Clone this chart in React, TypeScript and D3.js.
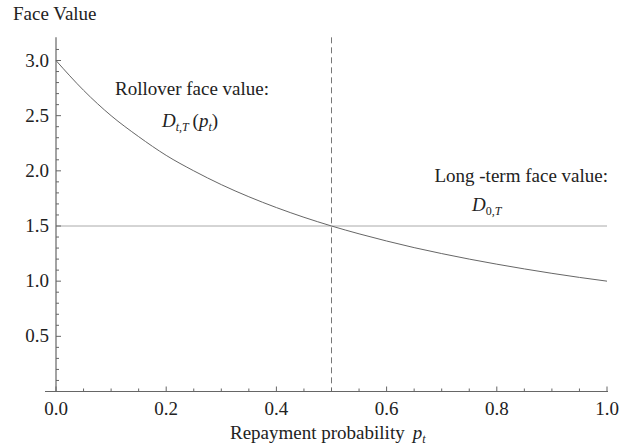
import React from "react";
import * as d3 from "d3";

// values
const probs = [0, 0.05, 0.1, 0.15, 0.2, 0.25, 0.3, 0.35, 0.4, 0.45, 0.5, 0.55, 0.6, 0.65, 0.7, 0.75, 0.8, 0.85, 0.9, 0.95, 1.0];
const rollover = [3.0, 2.73, 2.5, 2.31, 2.14, 2.0, 1.875, 1.765, 1.667, 1.579, 1.5, 1.429, 1.364, 1.304, 1.25, 1.2, 1.154, 1.111, 1.071, 1.034, 1.0];
const longTerm = 1.5;
const cutoff = 0.5;
const xTicks = [0, 0.2, 0.4, 0.6, 0.8, 1.0];
const yTicks = [0.5, 1.0, 1.5, 2.0, 2.5, 3.0];

const W = 619;
const H = 448;
const font = "Liberation Serif, DejaVu Serif, serif";

export default function App() {
  const x = d3.scaleLinear().domain([0, 1]).range([56, 607]);
  const y = d3.scaleLinear().domain([0, 3]).range([391.5, 60.5]);
  const yTop = y(3.21);

  const line = d3
    .line<number>()
    .x((_, i) => x(probs[i]))
    .y((d) => y(d))
    .curve(d3.curveMonotoneX);

  const xMinor = d3.range(0, 1.0001, 0.05);
  const yMinor = d3.range(0.1, 3.2, 0.1);
  const axisColor = "#666";

  return (
    <svg width={W} height={H} style={{ position: "fixed", left: 0, top: 0, display: "block" }}>
      <rect width={W} height={H} fill="#fff" />
      <g fontFamily={font} fill="#222" fontSize={19}>
        {/* reference lines */}
        <line x1={x(0)} x2={x(1)} y1={y(longTerm)} y2={y(longTerm)} stroke="#aaa" strokeWidth={1} />
        <line x1={x(cutoff)} x2={x(cutoff)} y1={yTop} y2={y(0)} stroke="#777" strokeWidth={1} strokeDasharray="6,4" />
        <path d={line(rollover) || ""} fill="none" stroke="#666" strokeWidth={1} />

        {/* axes */}
        <line x1={45} x2={x(1) + 1} y1={y(0)} y2={y(0)} stroke={axisColor} strokeWidth={1.2} />
        <line x1={x(0)} x2={x(0)} y1={y(0)} y2={yTop} stroke={axisColor} strokeWidth={1.2} />
        {xMinor.map((t, i) => {
          const major = i % 4 === 0;
          return (
            <line key={"xm" + i} x1={x(t)} x2={x(t)} y1={y(0)} y2={y(0) - (major ? 5 : 3)} stroke={axisColor} strokeWidth={1} />
          );
        })}
        {yMinor.map((t, i) => {
          const major = Math.abs(t * 2 - Math.round(t * 2)) < 1e-6;
          return (
            <line key={"ym" + i} x1={x(0)} x2={x(0) + (major ? 5 : 3)} y1={y(t)} y2={y(t)} stroke={axisColor} strokeWidth={1} />
          );
        })}
        {xTicks.map((t) => (
          <text key={"xt" + t} x={x(t)} y={y(0) + 23} textAnchor="middle">
            {t.toFixed(1)}
          </text>
        ))}
        {yTicks.map((t) => (
          <text key={"yt" + t} x={x(0) - 7} y={y(t) + 6} textAnchor="end">
            {t.toFixed(1)}
          </text>
        ))}

        {/* axis labels */}
        <text x={13} y={20}>Face Value</text>
        <text x={230} y={439}>
          Repayment probability
          <tspan fontStyle="italic" dx={8}>p</tspan>
          <tspan fontStyle="italic" fontSize={12} dy={4}>t</tspan>
        </text>

        {/* annotations */}
        <text x={115} y={95}>Rollover face value:</text>
        <text x={162} y={127}>
          <tspan fontStyle="italic">D</tspan>
          <tspan fontStyle="italic" fontSize={12} dy={4}>t,T</tspan>
          <tspan dy={-4}>{"\u2009"}(</tspan>
          <tspan fontStyle="italic">p</tspan>
          <tspan fontStyle="italic" fontSize={12} dy={4}>t</tspan>
          <tspan dy={-4}>)</tspan>
        </text>
        <text x={608} y={182} textAnchor="end">Long -term face value:</text>
        <text x={472} y={211}>
          <tspan fontStyle="italic">D</tspan>
          <tspan fontSize={12} dy={4}>0,</tspan>
          <tspan fontStyle="italic" fontSize={12}>T</tspan>
        </text>
      </g>
    </svg>
  );
}
